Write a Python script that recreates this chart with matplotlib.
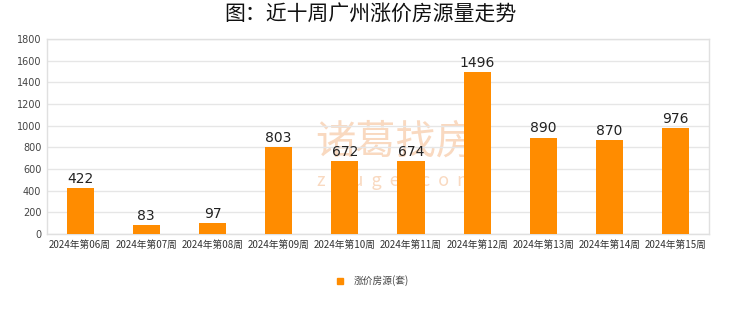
import matplotlib
matplotlib.use("Agg")
import matplotlib.pyplot as plt

plt.rcParams['font.family'] = ['Noto Sans CJK SC', 'DejaVu Sans']

categories = ["2024年第06周", "2024年第07周", "2024年第08周", "2024年第09周", "2024年第10周",
              "2024年第11周", "2024年第12周", "2024年第13周", "2024年第14周", "2024年第15周"]
values = [422, 83, 97, 803, 672, 674, 1496, 890, 870, 976]
yticks = [0, 200, 400, 600, 800, 1000, 1200, 1400, 1600, 1800]
title = "图：近十周广州涨价房源量走势"
series_name = "涨价房源(套)"

bar_color = "#FF8C00"

fig = plt.figure(figsize=(7.4, 3.12), dpi=100)
ax = fig.add_axes([0.0635, 0.25, 0.8945, 0.625])
ax.patch.set_alpha(0)

x = list(range(len(categories)))
ax.bar(x, values, width=0.41, color=bar_color, zorder=3, label=series_name)
for xi, v in zip(x, values):
    ax.text(xi, v + 20, str(v), ha='center', va='bottom', fontsize=10,
            color='#222222', family='DejaVu Sans', zorder=4)

ax.set_xlim(-0.5, len(categories) - 0.5)
ax.set_ylim(0, 1800)
ax.set_yticks(yticks)
ax.set_yticklabels([str(t) for t in yticks], fontsize=7, color='#444444', family='DejaVu Sans')
ax.set_xticks(x)
ax.set_xticklabels(categories, fontsize=7, color='#333333')
ax.tick_params(axis='both', length=0, pad=4)
ax.grid(axis='y', color='#e6e6e6', linewidth=1, zorder=0)
for s in ax.spines.values():
    s.set_color('#e0e0e0')
    s.set_linewidth(1)

# watermark (behind the plot)
fig.text(0.535, 0.545, "诸葛找房", fontsize=29, color='#f9d9c0',
         ha='center', va='center', zorder=-1)
fig.text(0.535, 0.42, "z  h  u  g  e  .  c  o  m", fontsize=13, color='#f9d9c0',
         ha='center', va='center', zorder=-1)

fig.text(0.5, 0.952, title, ha='center', va='center', fontsize=15, color='#111111')

leg = fig.legend(handles=[plt.Line2D([], [], marker='s', linestyle='none', color=bar_color,
                                     markersize=5)],
                 labels=[series_name], loc='center', bbox_to_anchor=(0.5, 0.1),
                 frameon=False, fontsize=7, handletextpad=0.4)
for t in leg.get_texts():
    t.set_color('#444444')

fig.savefig("out.png", dpi=100)
